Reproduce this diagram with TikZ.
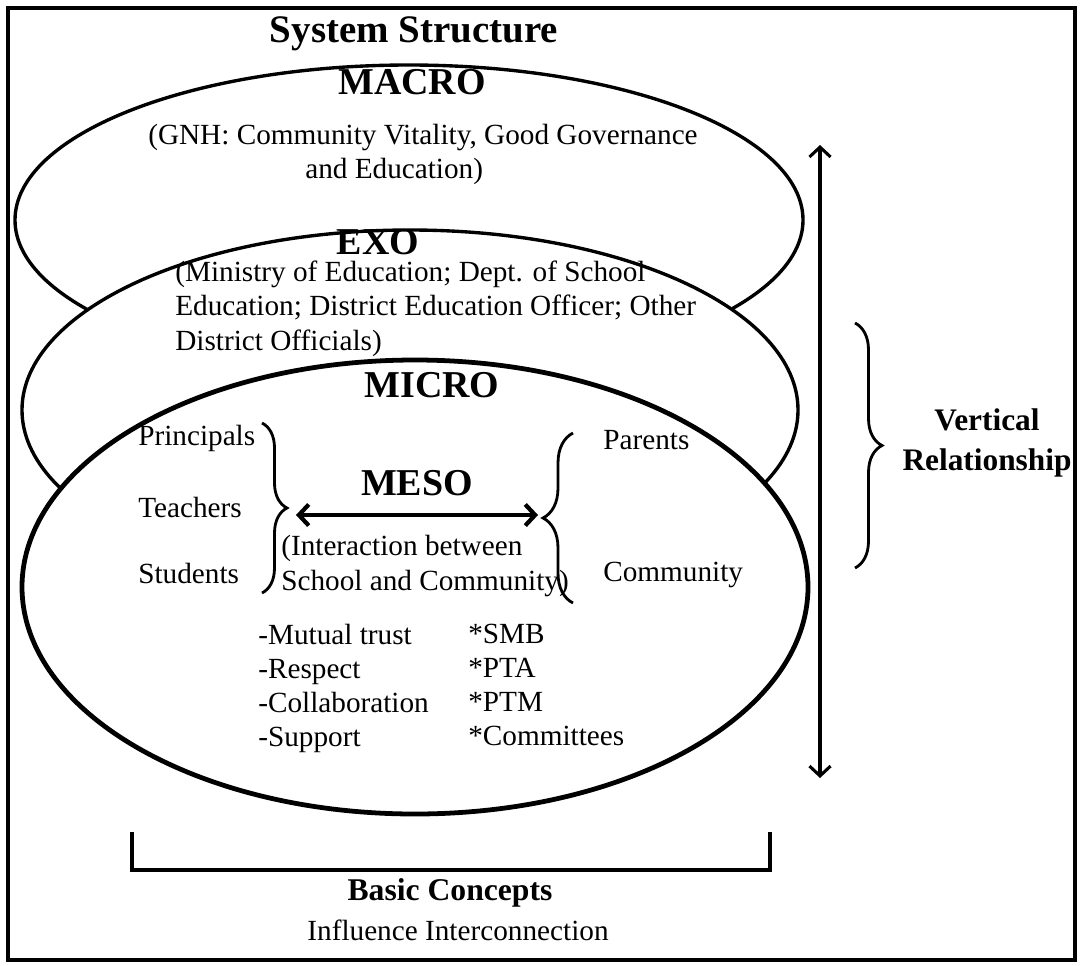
\documentclass[tikz,border=0pt]{standalone}
\usepackage{fontspec}
\setmainfont{Liberation Serif}
\usetikzlibrary{arrows.meta,decorations.pathreplacing}

\begin{document}
\begin{tikzpicture}[
    body/.style={font=\fontsize{20.8}{24.2}\selectfont, inner sep=0pt},
    head/.style={font=\fontsize{27}{30}\selectfont\bfseries, inner sep=0pt},
    ring/.style={draw, line width=2.4pt},
    curly/.style={decorate, decoration={brace, amplitude=#1}, line width=2pt},
    >={Straight Barb[length=7pt,width=15pt]}
]
    \useasboundingbox (0,0) rectangle (27.025,-24.125);
    \draw[line width=2.2pt] (0.2,-0.2) rectangle (26.875,-24.0);

    % macro, exo and micro levels, each one laid over the one above
    \draw[ring] (10.225,-5.5) ellipse (9.85 and 3.875);
    \draw[ring, fill=white] (10.25,-10.25) ellipse (9.7 and 4.5);
    \draw[ring, fill=white, line width=3.4pt] (10.375,-14.675) ellipse (9.825 and 5.675);

    \node[head, font=\fontsize{27.7}{30}\selectfont\bfseries] (title) at (10.35,-0.85) {System Structure};
    \node[head] (macro) at (10.3,-2.05) {MACRO};
    \node[body, align=left, anchor=west] (gnh) at (3.7,-3.86) {(GNH: Community Vitality, Good Governance\\\hspace*{3.925cm}and Education)};
    \node[head] (exo) at (9.45,-6.05) {EXO};
    \node[body, align=left, anchor=west] (officials) at (4.375,-7.72) {(Ministry of Education; Dept. of School\\Education; District Education Officer; Other\\District Officials)};
    \node[head] (micro) at (10.8,-9.625) {MICRO};

    % school side and community side
    \node[body, anchor=west] (principals) at (3.45,-10.95) {Principals};
    \node[body, anchor=west] (teachers) at (3.45,-12.675) {Teachers};
    \node[body, anchor=west] (students) at (3.45,-14.325) {Students};
    \node[body, anchor=west] (parents) at (15.075,-11.0) {Parents};
    \node[body, anchor=west] (community) at (15.075,-14.375) {Community};
    \draw[curly=0.625cm] (6.55,-10.575) -- (6.55,-14.825);
    \draw[curly=0.75cm] (14.325,-15.075) -- (14.325,-10.825);

    \node[head] (meso) at (10.425,-12.075) {MESO};
    \coordinate (school) at (7.4,-12.875);
    \coordinate (town) at (13.45,-12.875);
    \draw[<->, line width=3pt] (school) -- (town);
    \node[body, align=left, anchor=west] (interaction) at (7.025,-14.15) {(Interaction between\\School and Community)};

    \node[body, align=left, anchor=north west] (values) at (6.45,-15.6) {-Mutual trust\\-Respect\\-Collaboration\\-Support};
    \node[body, align=left, anchor=north west] (bodies) at (11.7,-15.6) {*SMB\\*PTA\\*PTM\\*Committees};

    % vertical relationship
    \coordinate (vtop) at (20.5,-3.625);
    \coordinate (vbot) at (20.5,-19.45);
    \draw[<->, line width=2.2pt] (vbot) -- (vtop);
    \draw[curly=0.675cm] (21.375,-8.075) -- (21.375,-14.2);
    \node[font=\fontsize{22.3}{28.5}\selectfont\bfseries, align=center, inner sep=0pt] (vertical) at (24.675,-11.075) {Vertical\\Relationship};

    % basic concepts
    \draw[line width=2.8pt] (3.3,-20.8) |- (19.25,-21.75) -- (19.25,-20.8);
    \node[font=\fontsize{22.5}{26}\selectfont\bfseries, inner sep=0pt] (basic) at (11.25,-22.325) {Basic Concepts};
    \node[body] (influence) at (11.45,-23.25) {Influence Interconnection};
\end{tikzpicture}
\end{document}
